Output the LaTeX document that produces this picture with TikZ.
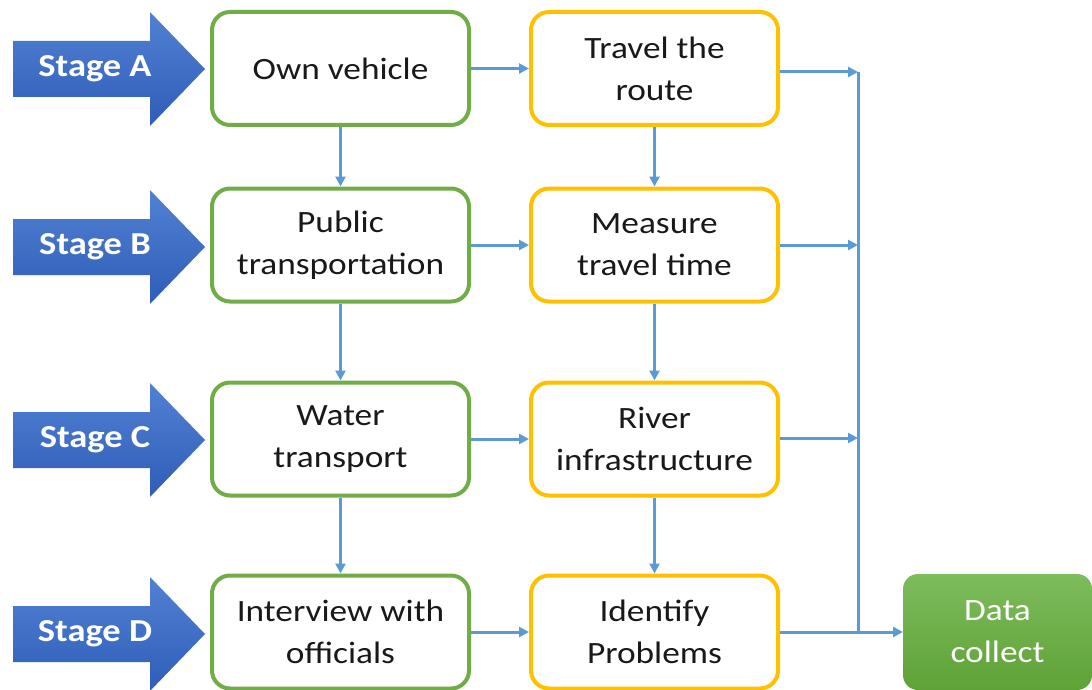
\documentclass[tikz,border=0pt]{standalone}
\usepackage{fontspec}
\setmainfont{Carlito}[FakeStretch=1.14]
\usetikzlibrary{arrows.meta}
\definecolor{stagetop}{HTML}{5181D3}
\definecolor{stagebot}{HTML}{2F5DB8}
\definecolor{gbox}{HTML}{70AD47}
\definecolor{ybox}{HTML}{FFC000}
\definecolor{conn}{HTML}{5B9BD5}
\definecolor{dtop}{HTML}{7EBC5C}
\definecolor{dbot}{HTML}{5FA237}
\begin{document}
\begin{tikzpicture}[x=1pt,y=-1pt,
  boxtext/.style={font=\fontsize{31}{42}\selectfont, align=center, text=black!90},
  greenbox/.style={boxtext, draw=gbox, line width=4pt, rounded corners=18pt, fill=white,
     minimum width=257pt, minimum height=113pt, inner sep=0pt},
  yellowbox/.style={boxtext, draw=ybox, line width=4pt, rounded corners=18pt, fill=white,
     minimum width=247pt, minimum height=113pt, inner sep=0pt},
  conn/.style={draw=conn, line width=3pt, -{Triangle[length=10pt,width=10pt]}},
  connplain/.style={draw=conn, line width=3pt},
  stagetext/.style={font=\fontsize{32}{36}\selectfont\bfseries, text=white}]
\useasboundingbox (0,0) rectangle (1092,690);
% stage arrows
\foreach \cy/\lab in {69/A,247/B,440/C,634/D}{
  \shade[top color=stagetop, bottom color=stagebot]
    (13,\cy-28) -- (150,\cy-28) -- (150,\cy-57) -- (205,\cy) -- (150,\cy+57) -- (150,\cy+28) -- (13,\cy+28) -- cycle;
  \node[stagetext] (stage\lab) at (95,\cy) {Stage \lab};
}
% green column
\node[greenbox] (g1) at (340.5,68.5) {Own vehicle};
\node[greenbox] (g2) at (340.5,245) {Public\\transportation};
\node[greenbox] (g3) at (340.5,439) {Water\\transport};
\node[greenbox] (g4) at (340.5,632) {Interview with\\officials};
% yellow column
\node[yellowbox] (y1) at (654.5,68.5) {Travel the\\route};
\node[yellowbox] (y2) at (654.5,245) {Measure\\travel time};
\node[yellowbox] (y3) at (654.5,439) {River\\infrastructure};
\node[yellowbox] (y4) at (654.5,632) {Identify\\Problems};
% data collect
\shade[top color=dtop, bottom color=dbot, rounded corners=15pt]
  (903,574) rectangle (1092,690);
\node[font=\fontsize{31}{42}\selectfont, align=center, text=white] (dc) at (997.5,632) {Data\\collect};
\coordinate (dcw) at (903,632);
% bus
\coordinate (bus1) at (858,72);
\coordinate (bus2) at (858,245);
\coordinate (bus3) at (858,438);
\coordinate (bus4) at (858,632);
% connectors
\foreach \i in {1,2,3,4}{
  \draw[conn] (g\i.east) -- (y\i.west);
}
\foreach \i/\j in {1/2,2/3,3/4}{
  \draw[conn] (g\i.south) -- (g\j.north);
  \draw[conn] (y\i.south) -- (y\j.north);
}
\draw[conn] (y1.east |- bus1) -- (bus1);
\draw[conn] (y2.east) -- (bus2);
\draw[conn] (y3.east |- bus3) -- (bus3);
\draw[connplain] (bus1) -- (bus4);
\draw[conn] (y4.east) -- (dcw);
\end{tikzpicture}
\end{document}
